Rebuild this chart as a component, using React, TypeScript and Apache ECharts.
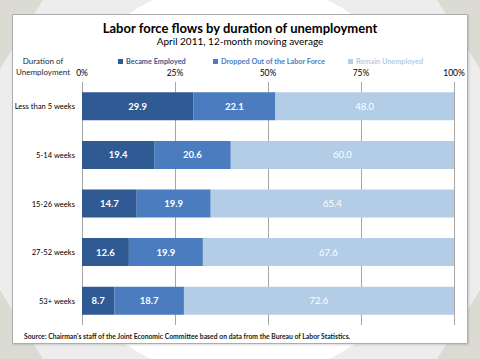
import React, { useEffect, useRef } from "react";
import * as echarts from "echarts";

const categories = ["Less than 5 weeks", "5-14 weeks", "15-26 weeks", "27-52 weeks", "53+ weeks"];
const becameEmployed = [29.9, 19.4, 14.7, 12.6, 8.7];
const droppedOut = [22.1, 20.6, 19.9, 19.9, 18.7];
const remainUnemployed = [48.0, 60.0, 65.4, 67.6, 72.6];
const seriesNames = ["Became Employed", "Dropped Out of the Labor Force", "Remain Unemployed"];
const colors = ["#2f5a93", "#4a7cbf", "#b4cde6"];

const FONT = "Lato, 'Open Sans', sans-serif";

export default function App() {
  const ref = useRef<HTMLDivElement>(null);
  useEffect(() => {
    if (!ref.current) return;
    const chart = echarts.init(ref.current, undefined, { renderer: "svg" });
    const label = (bold: boolean) => ({
      show: true,
      position: "inside",
      color: "#ffffff",
      fontFamily: FONT,
      fontSize: 9.5,
      fontWeight: bold ? "bold" : "normal",
      formatter: (p: any) => Number(p.value).toFixed(1),
    });
    const legendAt = (i: number, left: number) => ({
      left,
      top: 53,
      itemWidth: 5,
      itemHeight: 5,
      itemGap: 4,
      icon: "rect",
      selectedMode: false,
      data: [{ name: seriesNames[i], textStyle: { color: colors[i] } }],
      textStyle: { fontFamily: FONT, fontSize: 7.3, fontWeight: "bold", padding: [0, 0, 0, -2] },
    });
    chart.setOption({
      animation: false,
      backgroundColor: "#dcdbd3",
      graphic: [
        {
          type: "polygon",
          silent: true,
          z: -10,
          shape: {
            points: [
              [43, 0], [437, 0], [480, 69], [480, 290], [437, 359], [43, 359], [0, 290], [0, 69],
            ],
          },
          style: { fill: "#ededed" },
        },
        {
          type: "circle",
          silent: true,
          z: -9,
          shape: { cx: 240, cy: 180, r: 200 },
          style: { fill: "#ffffff" },
        },
        {
          type: "rect",
          silent: true,
          z: -8,
          shape: { x: 12.5, y: 14.5, width: 455, height: 329 },
          style: { fill: "#ffffff", stroke: "#a9afaf", lineWidth: 1, shadowColor: "rgba(0,0,0,0.15)", shadowBlur: 2, shadowOffsetX: 1, shadowOffsetY: 1 },
        },
        {
          type: "text",
          silent: true,
          style: {
            text: "Duration of\nUnemployment",
            x: 43,
            y: 55,
            align: "center",
            fontFamily: FONT,
            fontSize: 8,
            lineHeight: 11,
            fill: "#1f1f1f",
          },
        },
        {
          type: "text",
          silent: true,
          style: {
            text: "Source: Chairman's staff of the Joint Economic Committee based on data from the Bureau of Labor Statistics.",
            x: 24,
            y: 332,
            fontFamily: FONT,
            fontSize: 6.8,
            fontWeight: "bold",
            fill: "#1a1a1a",
          },
        },
      ],
      title: {
        text: "Labor force flows by duration of unemployment",
        subtext: "April 2011, 12-month moving average",
        left: "center",
        top: 16,
        itemGap: 2,
        textStyle: { fontFamily: FONT, fontSize: 13, fontWeight: "bold", color: "#000000" },
        subtextStyle: { fontFamily: FONT, fontSize: 10, color: "#000000" },
      },
      legend: [legendAt(0, 113), legendAt(1, 208), legendAt(2, 343)],
      grid: { left: 82, right: 26, top: 82, bottom: 34, containLabel: false },
      xAxis: {
        type: "value",
        position: "top",
        min: 0,
        max: 100,
        interval: 25,
        axisLine: { show: false },
        axisTick: { show: false },
        axisLabel: {
          formatter: "{value}%",
          fontFamily: FONT,
          fontSize: 8.5,
          color: "#000000",
          margin: 5,
        },
        splitLine: { show: true, lineStyle: { color: "#a6a6a6", width: 1 } },
      },
      yAxis: {
        type: "category",
        inverse: true,
        data: categories,
        axisLine: { show: false },
        axisTick: { show: false },
        axisLabel: { fontFamily: FONT, fontSize: 7.6, color: "#000000", margin: 7 },
      },
      series: [
        { name: seriesNames[0], type: "bar", stack: "total", data: becameEmployed, barWidth: 28, itemStyle: { color: colors[0] }, label: label(true) },
        { name: seriesNames[1], type: "bar", stack: "total", data: droppedOut, barWidth: 28, itemStyle: { color: colors[1] }, label: label(true) },
        { name: seriesNames[2], type: "bar", stack: "total", data: remainUnemployed, barWidth: 28, itemStyle: { color: colors[2] }, label: label(false) },
      ],
    });
    return () => chart.dispose();
  }, []);
  return <div ref={ref} style={{ width: 480, height: 359, position: "absolute", left: 0, top: 0 }} />;
}
